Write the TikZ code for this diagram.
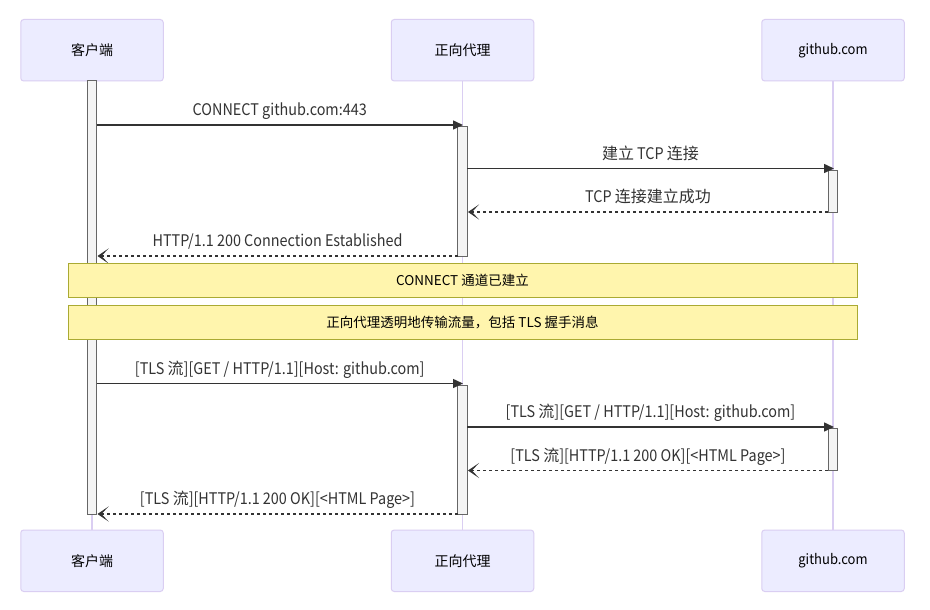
\documentclass[tikz,border=0pt]{standalone}
\usepackage{fontspec}
\setmainfont{Noto Sans CJK SC}
\newfontfamily\latnarrow[FakeStretch=0.9]{Noto Sans CJK SC}
\newfontfamily\latactor[FakeStretch=0.93]{Noto Sans CJK SC}
\newcommand\cjkrun[1]{{\normalfont #1}}
\usetikzlibrary{arrows.meta}
\definecolor{actfill}{HTML}{ECECFF}
\definecolor{actline}{RGB}{218,206,242}
\definecolor{msgc}{HTML}{333333}
\definecolor{barfill}{HTML}{F4F4F4}
\definecolor{barline}{HTML}{666666}
\definecolor{notefill}{HTML}{FFF5AD}
\definecolor{noteline}{HTML}{AAAA33}
\begin{document}
\begin{tikzpicture}[x=1pt,y=-1pt,
  actor/.style={draw=actline, fill=actfill, rounded corners=3pt, minimum width=142.5pt, minimum height=61.5pt, inner sep=0pt, line width=1pt, font=\fontsize{14}{16}\selectfont, text=black},
  lifeline/.style={draw=actline, line width=1.2pt},
  actbar/.style={draw=barline, fill=barfill, line width=1pt, inner sep=0pt, minimum width=9.5pt},
  solidmsg/.style={draw=msgc, line width=1.5pt, -{Triangle[length=10pt,width=9pt]}},
  dashmsg/.style={draw=msgc, line width=1.5pt, dash pattern=on 3pt off 3pt, -{Stealth[length=11pt,width=15pt,inset=7pt]}},
  msglabel/.style={midway, anchor=base, yshift=9.5pt, font=\fontsize{16}{18}\latnarrow, text=msgc, inner sep=0pt},
  notebox/.style={draw=noteline, fill=notefill, line width=1pt, minimum width=789pt, inner sep=0pt, font=\fontsize{13.5}{16}\selectfont, text=black}
]
\useasboundingbox (0,0) rectangle (930,610);
\fill[white] (0,0) rectangle (930,610);

% lifelines
\coordinate (lc1) at (92,81);   \coordinate (lc2) at (92,530);
\coordinate (lp1) at (462.5,81); \coordinate (lp2) at (462.5,530);
\coordinate (lg1) at (833,81);  \coordinate (lg2) at (833,530);
\draw[lifeline] (lc1) -- (lc2);
\draw[lifeline] (lp1) -- (lp2);
\draw[lifeline] (lg1) -- (lg2);

% actors
\node[actor] (ct) at (92,50.25) {客户端};
\node[actor] (pt) at (462.5,50.25) {正向代理};
\node[actor] (gt) at (833,50.25) {\latactor github.com};
\node[actor] (cb) at (92,560.75) {客户端};
\node[actor] (pb) at (462.5,560.75) {正向代理};
\node[actor] (gb) at (833,560.75) {\latactor github.com};

% activation bars
\node[actbar, minimum height=433pt] (cbar) at (91.75,297.5) {};
\node[actbar, minimum height=130pt] (pbar1) at (462.25,191) {};
\node[actbar, minimum height=42pt] (gbar1) at (833,191) {};
\node[actbar, minimum height=129pt] (pbar2) at (462.25,449.5) {};
\node[actbar, minimum height=42.5pt] (gbar2) at (833,449.25) {};

% message end points
\coordinate (m1a) at (96.5,125);  \coordinate (m1b) at (463,125);
\coordinate (m2a) at (467,168.5); \coordinate (m2b) at (834,168.5);
\coordinate (m3a) at (828,212);   \coordinate (m3b) at (468,212);
\coordinate (m4a) at (457.5,256); \coordinate (m4b) at (97.5,256);
\coordinate (m5a) at (96.5,383.5); \coordinate (m5b) at (463,383.5);
\coordinate (m6a) at (467,427);   \coordinate (m6b) at (834,427);
\coordinate (m7a) at (828,470.5); \coordinate (m7b) at (468,470.5);
\coordinate (m8a) at (457.5,514); \coordinate (m8b) at (97.5,514);

\draw[solidmsg] (m1a) -- node[msglabel]{CONNECT github.com:443} (m1b);
\draw[solidmsg] (m2a) -- node[msglabel]{\cjkrun{建立} TCP \cjkrun{连接}} (m2b);
\draw[dashmsg] (m3a) -- node[msglabel]{TCP \cjkrun{连接建立成功}} (m3b);
\draw[dashmsg] (m4a) -- node[msglabel]{HTTP/1.1 200 Connection Established} (m4b);
\draw[solidmsg] (m5a) -- node[msglabel]{[TLS \cjkrun{流}][GET / HTTP/1.1][Host: github.com]} (m5b);
\draw[solidmsg] (m6a) -- node[msglabel]{[TLS \cjkrun{流}][GET / HTTP/1.1][Host: github.com]} (m6b);
\draw[dashmsg] (m7a) -- node[msglabel]{[TLS \cjkrun{流}][HTTP/1.1 200 OK][<HTML Page>]} (m7b);
\draw[dashmsg] (m8a) -- node[msglabel]{[TLS \cjkrun{流}][HTTP/1.1 200 OK][<HTML Page>]} (m8b);

% notes
\node[notebox, minimum height=34.5pt] (n1) at (462.5,280.5) {CONNECT 通道已建立};
\node[notebox, minimum height=33.5pt] (n2) at (462.5,322.5) {正向代理透明地传输流量，包括 TLS 握手消息};
\end{tikzpicture}
\end{document}
